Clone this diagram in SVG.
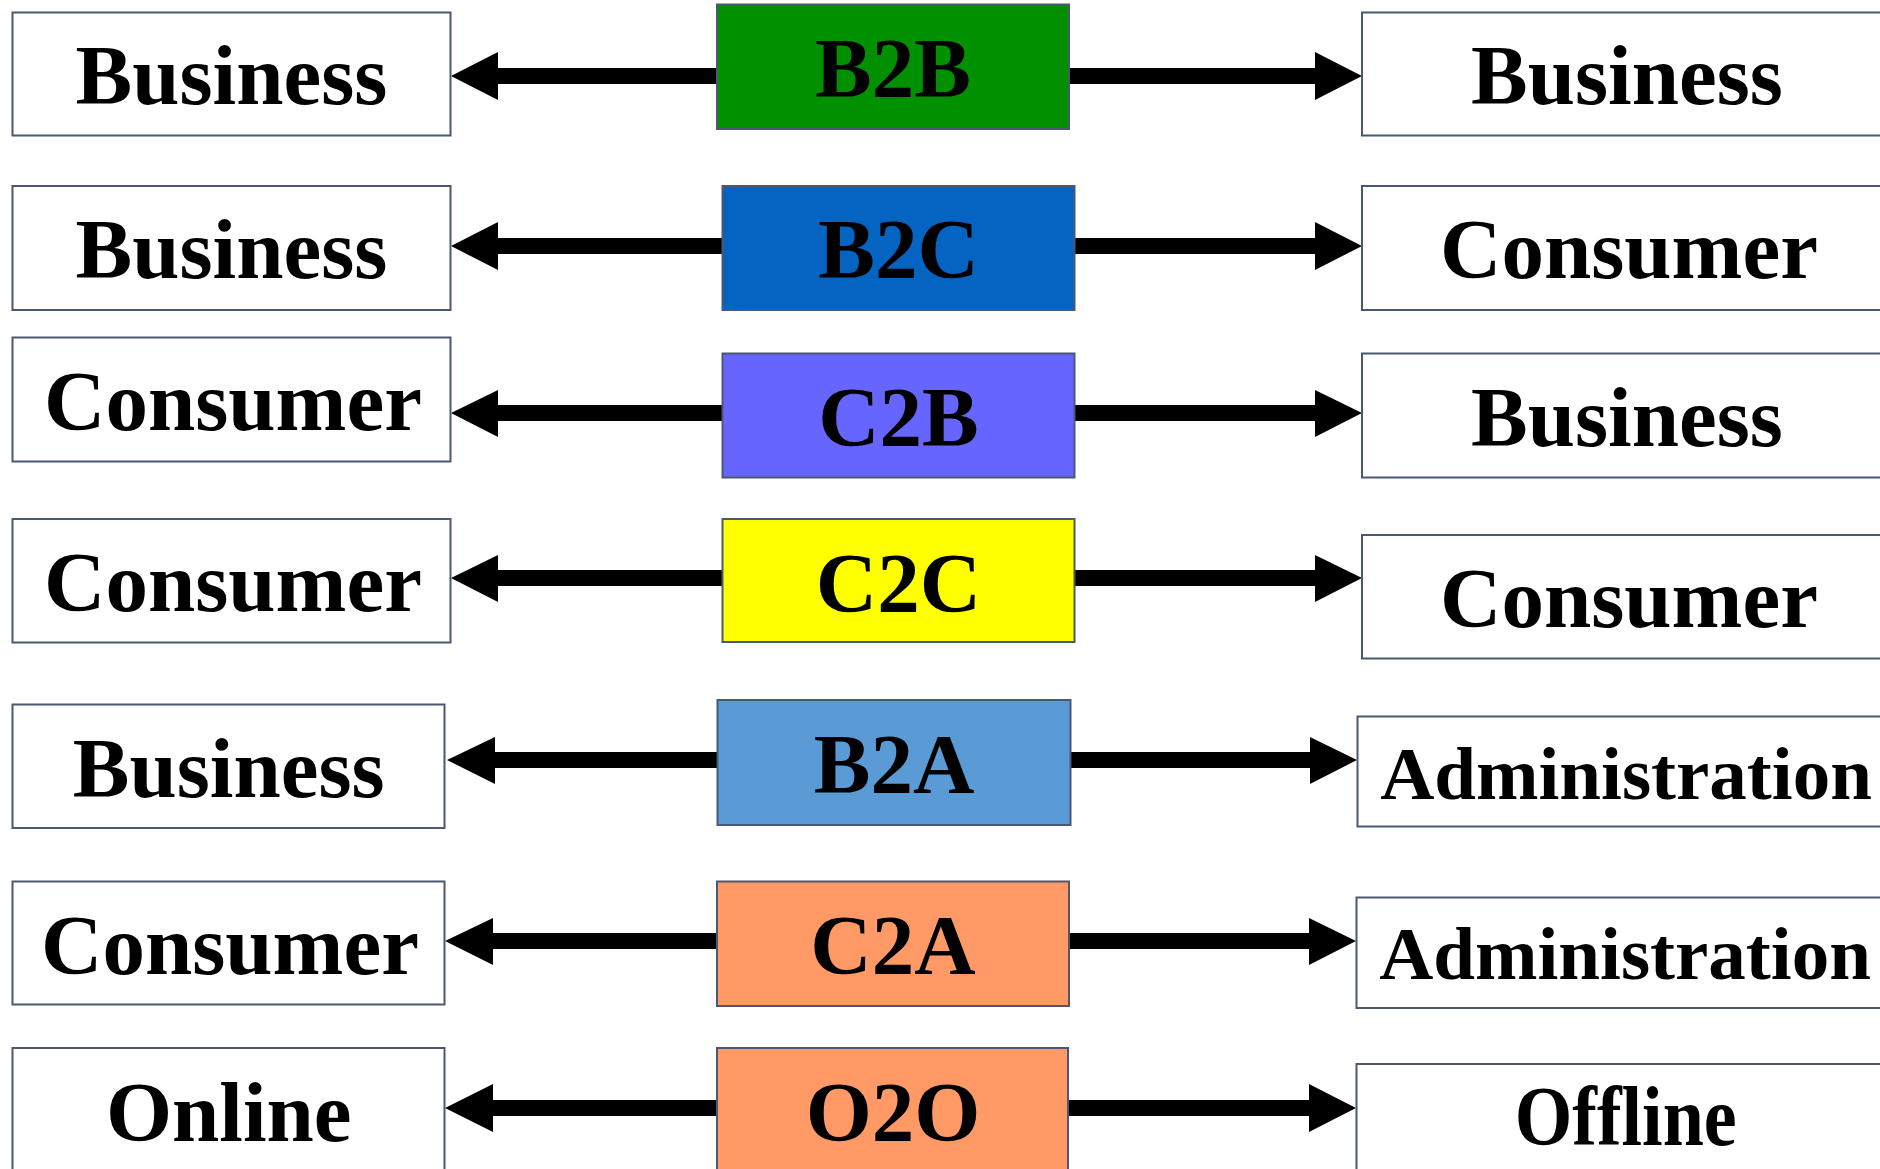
<svg xmlns="http://www.w3.org/2000/svg" width="1880" height="1169" viewBox="0 0 1880 1169">
<style>
.box{stroke:#4a5873;stroke-width:2}
.w{fill:#ffffff}
.t{font-family:"Liberation Serif","Times New Roman",serif;font-weight:bold;font-size:85px;fill:#000;text-anchor:middle}
.a{font-size:75px}
.arr{fill:#000}
</style>
<rect width="1880" height="1169" fill="#ffffff"/>
<g id="connectors">
<polygon class="arr" points="717,68 498,68 498,52 451,76 498,100 498,84 717,84"/>
<polygon class="arr" points="1069,68 1315,68 1315,52 1362,76 1315,100 1315,84 1069,84"/>
<polygon class="arr" points="722,238 498,238 498,222 451,246 498,270 498,254 722,254"/>
<polygon class="arr" points="1075,238 1315,238 1315,222 1362,246 1315,270 1315,254 1075,254"/>
<polygon class="arr" points="722,405 498,405 498,390 451,413 498,437 498,421 722,421"/>
<polygon class="arr" points="1075,405 1315,405 1315,390 1362,413 1315,437 1315,421 1075,421"/>
<polygon class="arr" points="722,570 498,570 498,555 451,578 498,602 498,586 722,586"/>
<polygon class="arr" points="1075,570 1315,570 1315,555 1362,578 1315,602 1315,586 1075,586"/>
<polygon class="arr" points="718,752 495,752 495,737 447,760 495,784 495,768 718,768"/>
<polygon class="arr" points="1071,752 1310,752 1310,737 1357,760 1310,784 1310,768 1071,768"/>
<polygon class="arr" points="717,933 493,933 493,918 445,941 493,965 493,949 717,949"/>
<polygon class="arr" points="1069,933 1309,933 1309,918 1356,941 1309,965 1309,949 1069,949"/>
<polygon class="arr" points="717,1100 493,1100 493,1084 445,1108 493,1132 493,1116 717,1116"/>
<polygon class="arr" points="1068,1100 1309,1100 1309,1084 1356,1108 1309,1132 1309,1116 1068,1116"/>
</g>
<g id="left-business-1"><rect class="box w" x="12.5" y="12.5" width="438" height="123"/><text class="t" x="231.5" y="104">Business</text></g>
<g id="b2b"><rect class="box" fill="#009000" x="717" y="4.5" width="352" height="124.5"/><text class="t" x="893" y="97">B2B</text></g>
<g id="right-business-1"><rect class="box w" x="1362" y="12.5" width="540" height="123"/><text class="t" x="1627" y="104">Business</text></g>

<g id="left-business-2"><rect class="box w" x="12.5" y="186" width="438" height="124"/><text class="t" x="231.5" y="278">Business</text></g>
<g id="b2c"><rect class="box" fill="#0563c1" x="722.5" y="186" width="352" height="124"/><text class="t" x="898.5" y="278">B2C</text></g>
<g id="right-consumer-2"><rect class="box w" x="1362" y="186" width="540" height="124"/><text class="t" x="1629" y="278">Consumer</text></g>

<g id="left-consumer-3"><rect class="box w" x="12.5" y="337.5" width="438" height="124"/><text class="t" x="233" y="430">Consumer</text></g>
<g id="c2b"><rect class="box" fill="#6666ff" x="722.5" y="353.5" width="352" height="124"/><text class="t" x="898.5" y="446">C2B</text></g>
<g id="right-business-3"><rect class="box w" x="1362" y="353.5" width="540" height="124"/><text class="t" x="1627" y="446">Business</text></g>

<g id="left-consumer-4"><rect class="box w" x="12.5" y="519" width="438" height="123.5"/><text class="t" x="233" y="611">Consumer</text></g>
<g id="c2c"><rect class="box" fill="#ffff00" x="722.5" y="519" width="352" height="123"/><text class="t" x="898.5" y="611.5">C2C</text></g>
<g id="right-consumer-4"><rect class="box w" x="1362" y="535" width="540" height="123.5"/><text class="t" x="1629" y="627">Consumer</text></g>

<g id="left-business-5"><rect class="box w" x="12.5" y="704.5" width="432" height="123.5"/><text class="t" x="228.7" y="796.5">Business</text></g>
<g id="b2a"><rect class="box" fill="#5b9bd5" x="717.5" y="700" width="353" height="125"/><text class="t" x="894" y="792.5">B2A</text></g>
<g id="right-administration-5"><rect class="box w" x="1357.5" y="716.5" width="540" height="110"/><text class="t a" x="1626" y="798.5">Administration</text></g>

<g id="left-consumer-6"><rect class="box w" x="12.5" y="881.5" width="432" height="123"/><text class="t" x="230" y="974">Consumer</text></g>
<g id="c2a"><rect class="box" fill="#ff9966" x="717" y="881.5" width="352" height="124.5"/><text class="t" x="893" y="973.5">C2A</text></g>
<g id="right-administration-6"><rect class="box w" x="1356.5" y="897.5" width="540" height="110.5"/><text class="t a" x="1625" y="979">Administration</text></g>

<g id="left-online-7"><rect class="box w" x="12.5" y="1048" width="432" height="150"/><text class="t" x="228.7" y="1141">Online</text></g>
<g id="o2o"><rect class="box" fill="#ff9966" x="717" y="1048" width="351" height="150"/><text class="t" x="893" y="1141">O2O</text></g>
<g id="right-offline-7"><rect class="box w" x="1356.5" y="1064" width="540" height="150"/><text class="t" x="1625.7" y="1145" textLength="222" lengthAdjust="spacingAndGlyphs">Offline</text></g>
</svg>
